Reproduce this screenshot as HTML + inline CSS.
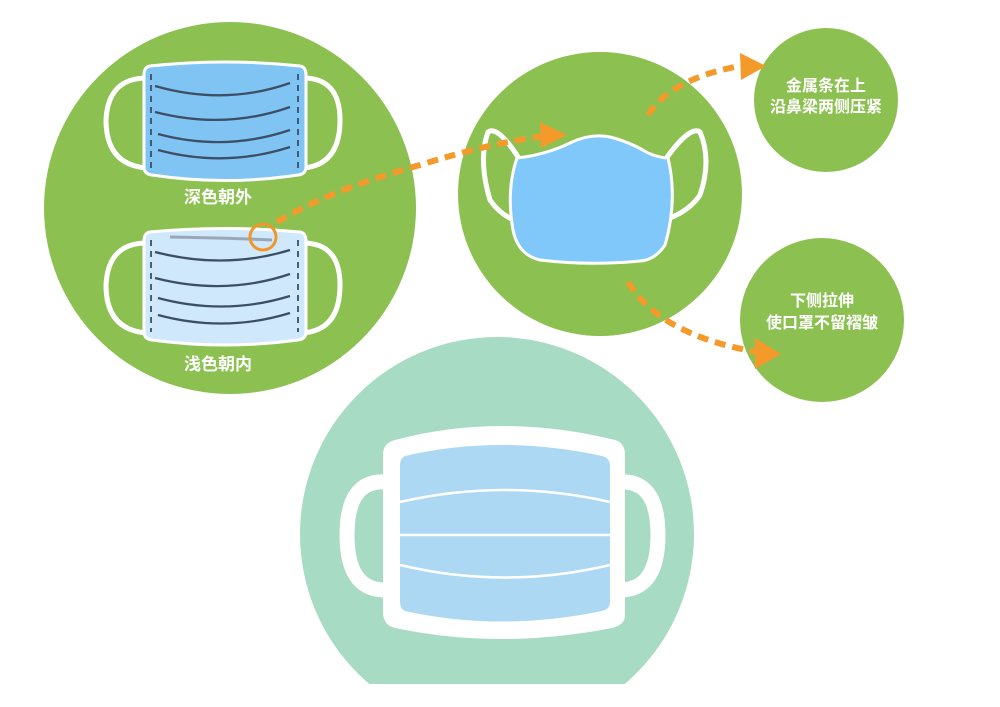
<!DOCTYPE html>
<html><head><meta charset="utf-8"><style>
body{margin:0;background:#fff;}
svg{display:block}
text{font-family:"Liberation Sans","Noto Sans CJK SC",sans-serif;fill:#fff;text-anchor:middle;font-weight:bold}
</style></head><body>
<svg width="1000" height="707" viewBox="0 0 1000 707">
<defs><clipPath id="c"><rect x="0" y="0" width="1000" height="684"/></clipPath></defs>
<!-- bottom circle -->
<circle cx="497" cy="534" r="197" fill="#a8dbc4" clip-path="url(#c)"/>
<!-- bottom mask -->
<path d="M385 482 Q347 480 347 535 Q347 590 385 590" fill="none" stroke="#fff" stroke-width="15"/>
<path d="M620 482 Q658 480 658 535 Q658 590 620 590" fill="none" stroke="#fff" stroke-width="15"/>
<path d="M395 440 Q500 412 615 440 Q625 443 625 455 L625 615 Q625 625 612 628 Q500 650 395 628 Q383 625 383 612 L383 455 Q383 443 395 440Z" fill="#fff"/>
<path d="M405 456 Q500 434 602 456 Q610 458 610 466 L610 602 Q610 609 602 611 Q500 632 405 611 Q400 609 400 602 L400 466 Q400 458 405 456Z" fill="#acd8f3"/>
<path d="M400 502 Q505 478 610 502" fill="none" stroke="#fff" stroke-width="2.5"/>
<path d="M400 535 L610 535" fill="none" stroke="#fff" stroke-width="2.5"/>
<path d="M400 565 Q505 590 610 565" fill="none" stroke="#fff" stroke-width="2.5"/>

<!-- left circle -->
<circle cx="230" cy="208" r="186" fill="#8cc152"/>
<!-- top mask -->
<path d="M147 78 Q108 78 106 120 Q106 165 147 168" fill="none" stroke="#fff" stroke-width="5"/>
<path d="M303 78 Q340 78 340 120 Q340 165 303 168" fill="none" stroke="#fff" stroke-width="5"/>
<path d="M150 66 Q225 58 300 66 Q306 67 306 75 L306 167 Q306 174 298 175 Q225 186 152 175 Q144 174 144 167 L144 75 Q144 67 150 66Z" fill="#80c4f4" stroke="#fff" stroke-width="3"/>
<g fill="none" stroke="#3d4f66" stroke-width="2.3">
<path d="M155 86 Q225 106 290 83"/><path d="M155 112 Q225 130 290 107"/><path d="M158 134 Q225 152 290 130"/><path d="M158 150 Q225 168 290 147"/>
<path d="M151 74 L151 168 M298 74 L298 168" stroke-dasharray="6 5" stroke-width="1.8"/>
</g>
<text x="218" y="203" font-size="17">深色朝外</text>
<!-- bottom-left mask -->
<path d="M147 243 Q108 243 106 285 Q106 330 147 333" fill="none" stroke="#fff" stroke-width="5"/>
<path d="M303 243 Q340 243 340 285 Q340 330 303 333" fill="none" stroke="#fff" stroke-width="5"/>
<path d="M150 232 Q225 225 300 232 Q306 233 306 241 L306 332 Q306 339 298 340 Q225 350 152 340 Q144 339 144 332 L144 241 Q144 233 150 232Z" fill="#cfe8fb" stroke="#fff" stroke-width="3"/>
<path d="M170 237 Q230 238 272 240" fill="none" stroke="#9aa7b8" stroke-width="3"/>
<g fill="none" stroke="#3d4f66" stroke-width="2.3">
<path d="M155 252 Q225 270 290 250"/><path d="M155 278 Q225 296 290 274"/><path d="M158 298 Q225 316 290 296"/><path d="M158 315 Q225 333 290 313"/>
<path d="M151 240 L151 332 M298 240 L298 332" stroke-dasharray="6 5" stroke-width="1.8"/>
</g>
<text x="218" y="370" font-size="17">浅色朝内</text>
<circle cx="263" cy="237" r="13" fill="none" stroke="#f0962a" stroke-width="3"/>

<!-- middle circle -->
<circle cx="600" cy="194" r="142" fill="#8cc152"/>
<path d="M520 160 Q498 125 488 132 Q478 160 490 200 Q500 215 518 222" fill="none" stroke="#fff" stroke-width="5"/>
<path d="M665 160 Q690 125 700 132 Q712 160 700 195 Q690 210 670 218" fill="none" stroke="#fff" stroke-width="5"/>
<path d="M517 158 Q545 155 570 143 Q590 133 610 137 Q630 142 648 153 Q660 158 668 158 Q678 200 665 245 Q655 260 640 261 Q590 266 540 260 Q518 255 513 230 Q506 190 517 158Z" fill="#80c8fa" stroke="#fff" stroke-width="3"/>

<!-- right circles -->
<circle cx="826" cy="100" r="72" fill="#8cc152"/>
<text x="826" y="91" font-size="16">金属条在上</text>
<text x="826" y="112" font-size="16">沿鼻梁两侧压紧</text>
<circle cx="822" cy="320" r="82" fill="#8cc152"/>
<text x="822" y="306" font-size="16">下侧拉伸</text>
<text x="822" y="328" font-size="16">使口罩不留褶皱</text>

<!-- arrows -->
<g fill="none" stroke="#f39a2b" stroke-width="6" stroke-dasharray="11 7">
<path d="M277 222 Q330 190 420 165 Q490 143 545 136"/>
<path d="M648 115 Q670 80 735 67"/>
<path d="M628 282 Q660 335 757 352"/>
</g>
<g fill="#f39a2b">
<polygon points="540,122 567,135 541,148"/>
<polygon points="740,53 766,66 741,80"/>
<polygon points="755,338 781,354 755,369"/>
</g>
</svg>
</body></html>
